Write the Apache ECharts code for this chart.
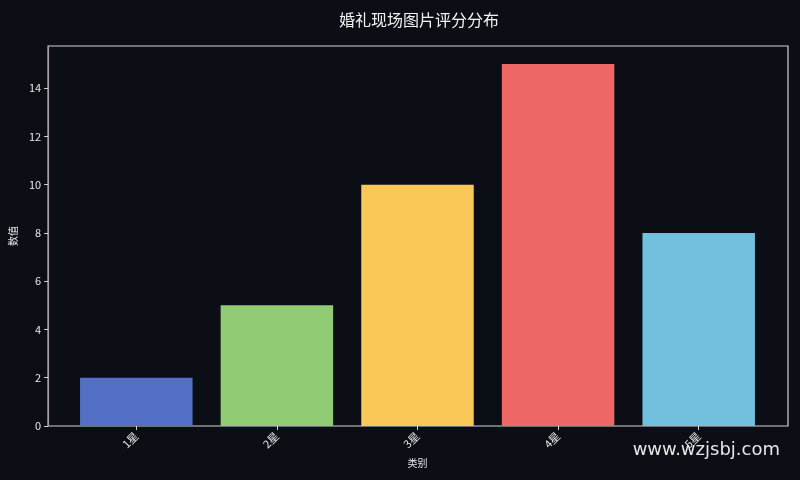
<!DOCTYPE html>
<html>
<head>
<meta charset="utf-8">
<script src="https://cdn.jsdelivr.net/npm/echarts@6/dist/echarts.min.js"></script>
<style>
html, body { margin: 0; padding: 0; background: #0b0e14; }
#main { width: 800px; height: 480px; }
</style>
</head>
<body>
<div id="main"></div>
<script>
// chart data
var categories = ['1星', '2星', '3星', '4星', '5星'];
var values = [2, 5, 10, 15, 8];
var barColors = ['#5470c6', '#91cc75', '#fac858', '#ee6666', '#73c0de'];
var yTicks = [0, 2, 4, 6, 8, 10, 12, 14];

var chart = echarts.init(document.getElementById('main'));
var fontFam = '"Noto Sans CJK SC", "DejaVu Sans", sans-serif';

var option = {
	backgroundColor : '#0b0e14',
	animation : false,
	title : {
		text : '婚礼现场图片评分分布',
		left : 414,
		textAlign : 'center',
		top : 7,
		textStyle : {
			color : '#f2f2f2',
			fontSize : 16,
			fontWeight : 'normal',
			fontFamily : fontFam
		}
	},
	grid : [ {
		// bars: bands sized so spacing matches the picture
		left : 66,
		right : 31,
		top : 46,
		bottom : 54
	}, {
		// frame + y axis
		left : 47,
		right : 12,
		top : 46,
		bottom : 54,
		show : true,
		borderColor : '#d4d4d4',
		borderWidth : 1.2
	} ],
	xAxis : [ {
		type : 'category',
		gridIndex : 0,
		data : categories,
		name : '类别',
		nameLocation : 'middle',
		nameGap : 32,
		nameTextStyle : { color : '#e6e6e6', fontSize : 10, fontFamily : fontFam },
		axisLine : { show : false },
		axisTick : { show : true, alignWithLabel : true, length : 4, lineStyle : { color : '#d4d4d4' } },
		axisLabel : { color : '#e6e6e6', fontSize : 11, rotate : 45, margin : 8, fontFamily : fontFam },
		splitLine : { show : false }
	}, {
		type : 'value',
		gridIndex : 1,
		min : 0,
		max : 1,
		show : false
	} ],
	yAxis : [ {
		type : 'value',
		gridIndex : 0,
		min : 0,
		max : 15.75,
		show : false
	}, {
		type : 'value',
		gridIndex : 1,
		min : 0,
		max : 15.75,
		interval : 2,
		name : '数值',
		nameLocation : 'middle',
		nameGap : 30,
		nameTextStyle : { color : '#e6e6e6', fontSize : 10, fontFamily : fontFam },
		axisLine : { show : true, lineStyle : { color : '#a0a0a0', width : 1.2 } },
		axisTick : { show : true, length : 4, customValues : yTicks, lineStyle : { color : '#d4d4d4' } },
		axisLabel : {
			color : '#e6e6e6',
			fontSize : 11,
			margin : 7,
			fontFamily : fontFam,
			customValues : yTicks
		},
		splitLine : { show : false }
	} ],
	series : [ {
		type : 'bar',
		xAxisIndex : 0,
		yAxisIndex : 0,
		barWidth : '80%',
		data : values.map(function (v, i) {
			return { value : v, itemStyle : { color : barColors[i] } };
		})
	} ],
	graphic : [ {
		type : 'text',
		right : 20,
		bottom : 21,
		style : {
			text : 'www.wzjsbj.com',
			fill : '#e6e6e6',
			fontSize : 18,
			fontFamily : '"DejaVu Sans", sans-serif'
		}
	} ]
};
chart.setOption(option);
</script>
</body>
</html>
